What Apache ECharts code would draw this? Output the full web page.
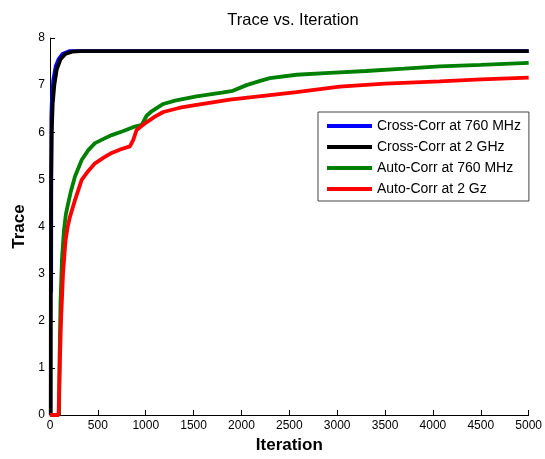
<!DOCTYPE html>
<html>
<head>
<meta charset="utf-8">
<title>Trace vs. Iteration</title>
<script src="https://cdn.jsdelivr.net/npm/echarts@6/dist/echarts.min.js"></script>
<style>
	html, body { margin: 0; padding: 0; background: #fff; }
	#chart { width: 545px; height: 459px; }
</style>
</head>
<body>
<div id="chart"></div>
<script>
// series names, in the order of the legend
var seriesNames = ['Cross-Corr at 760 MHz', 'Cross-Corr at 2 GHz', 'Auto-Corr at 760 MHz', 'Auto-Corr at 2 Gz'];
var seriesColors = ['#0000ff', '#000000', '#008000', '#ff0000'];

// Cross-Corr at 760 MHz
var cross760Iter = [12, 14, 18, 34, 60, 90, 130, 200, 5000];
var cross760Trace = [2.6, 6.3, 6.6, 7.1, 7.4, 7.55, 7.66, 7.72, 7.72];

// Cross-Corr at 2 GHz
var cross2Iter = [8, 9, 12, 18, 28, 45, 70, 110, 160, 230, 320, 5000];
var cross2Trace = [0, 2.5, 5.0, 6.0, 6.6, 7.0, 7.33, 7.55, 7.66, 7.71, 7.72, 7.72];

// Auto-Corr at 760 MHz
var auto760Iter = [95, 100, 110, 125, 145, 165, 191, 215, 261, 331, 400, 470, 560, 644, 760, 887, 960, 1009, 1065, 1183, 1305, 1531, 1795, 1910, 2053, 2213, 2296, 2575, 2923, 3300, 3700, 4071, 4500, 5000];
var auto760Trace = [0, 1.2, 2.4, 3.3, 3.9, 4.25, 4.5, 4.72, 5.06, 5.41, 5.62, 5.77, 5.86, 5.94, 6.02, 6.12, 6.16, 6.35, 6.45, 6.6, 6.67, 6.76, 6.84, 6.88, 7.0, 7.1, 7.15, 7.22, 7.26, 7.3, 7.35, 7.4, 7.43, 7.47];

// Auto-Corr at 2 Gz
var auto2Iter = [0, 90, 100, 115, 136, 162, 185, 209, 261, 331, 400, 470, 560, 644, 740, 835, 870, 905, 992, 1096, 1183, 1357, 1531, 1879, 2227, 2575, 3027, 3500, 4071, 4500, 5000];
var auto2Trace = [0, 0, 0.9, 2.0, 3.0, 3.7, 4.0, 4.21, 4.56, 4.99, 5.18, 5.34, 5.46, 5.56, 5.64, 5.7, 5.84, 6.05, 6.19, 6.33, 6.43, 6.52, 6.58, 6.69, 6.77, 6.85, 6.97, 7.03, 7.08, 7.12, 7.16];

var iterList = [cross760Iter, cross2Iter, auto760Iter, auto2Iter];
var traceList = [cross760Trace, cross2Trace, auto760Trace, auto2Trace];

// axis ticks
var xMin = 0, xMax = 5000, xStep = 500;
var yMin = 0, yMax = 8, yStep = 1;

function zip(xs, ys) {
	var out = [];
	for (var i = 0; i < xs.length; i++) {
		out.push([xs[i], ys[i]]);
	}
	return out;
}

var series = [];
for (var k = 0; k < seriesNames.length; k++) {
	series.push({
		name: seriesNames[k],
		type: 'line',
		data: zip(iterList[k], traceList[k]),
		showSymbol: false,
		symbol: 'none',
		smooth: false,
		animation: false,
		lineStyle: { color: seriesColors[k], width: 3.8 },
		itemStyle: { color: seriesColors[k] }
	});
}

var font = 'Arial, "Liberation Sans", Helvetica, sans-serif';

var myChart = echarts.init(document.getElementById('chart'));
var option = {
	backgroundColor: '#fff',
	animation: false,
	textStyle: { fontFamily: font },
	title: {
		text: 'Trace vs. Iteration',
		left: 288,
		textAlign: 'center',
		top: 7,
		textStyle: { fontFamily: font, fontSize: 16.5, fontWeight: 'normal', color: '#000' }
	},
	grid: { left: 50, right: 16, top: 38, bottom: 44, containLabel: false },
	legend: {
		orient: 'vertical',
		left: 318,
		top: 112,
		padding: [7, 8, 5, 9],
		itemGap: 7,
		itemWidth: 45,
		itemHeight: 4,
		icon: 'rect',
		backgroundColor: '#fff',
		borderColor: '#444',
		borderWidth: 1,
		data: seriesNames,
		textStyle: { fontFamily: font, fontSize: 14, color: '#000' }
	},
	xAxis: {
		type: 'value',
		min: xMin,
		max: xMax,
		interval: xStep,
		name: 'Iteration',
		nameLocation: 'middle',
		nameGap: 21,
		nameTextStyle: { fontFamily: font, fontSize: 17, fontWeight: 'bold', color: '#000' },
		axisLine: { show: true, onZero: false, lineStyle: { color: '#000', width: 1 } },
		axisTick: { show: true, inside: true, length: 5, lineStyle: { color: '#000' } },
		axisLabel: { fontFamily: font, fontSize: 12, color: '#000', margin: 5, formatter: function (v) { return String(v); } },
		splitLine: { show: false }
	},
	yAxis: {
		type: 'value',
		min: yMin,
		max: yMax,
		interval: yStep,
		name: 'Trace',
		nameLocation: 'middle',
		nameGap: 16,
		nameTextStyle: { fontFamily: font, fontSize: 17, fontWeight: 'bold', color: '#000' },
		axisLine: { show: true, onZero: false, lineStyle: { color: '#000', width: 1 } },
		axisTick: { show: true, inside: true, length: 5, lineStyle: { color: '#000' } },
		axisLabel: { fontFamily: font, fontSize: 12, color: '#000', margin: 5 },
		splitLine: { show: false }
	},
	series: series
};
myChart.setOption(option);
</script>
</body>
</html>
